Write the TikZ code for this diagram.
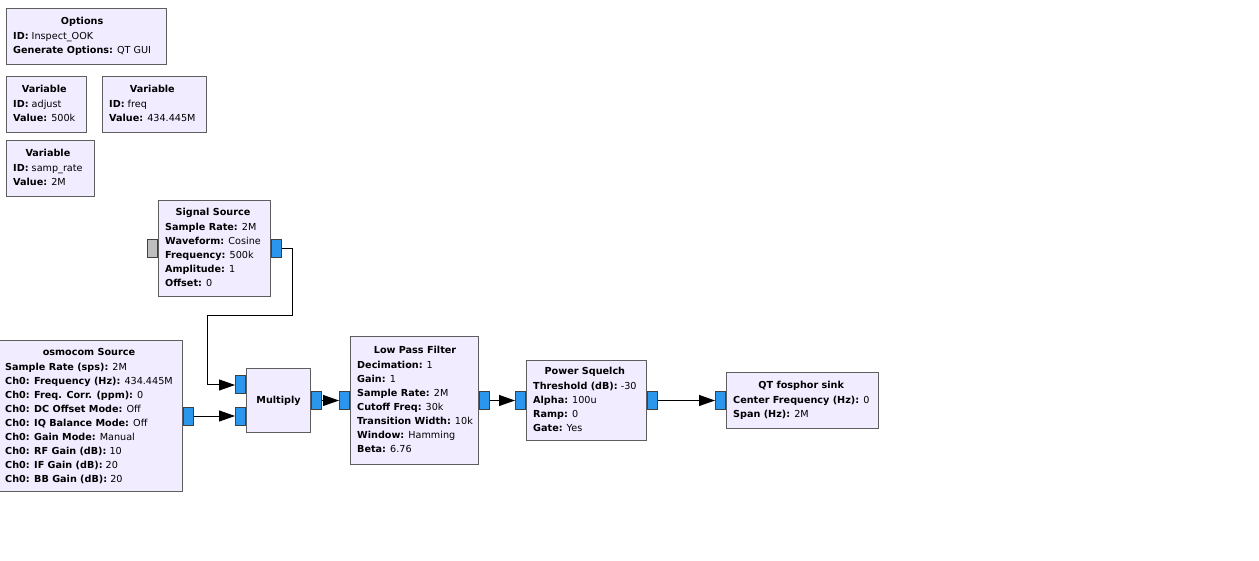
\documentclass[tikz,border=0pt]{standalone}
\usepackage{fontspec}
\setmainfont{DejaVu Sans}
\usetikzlibrary{arrows.meta}
\definecolor{blkfill}{HTML}{F1ECFF}
\definecolor{blkdraw}{HTML}{5E5E5E}
\definecolor{portblue}{HTML}{2B96EE}
\definecolor{portgray}{HTML}{BEBEBE}
\definecolor{portdraw}{HTML}{404040}
\tikzset{
  blk/.style={draw=blkdraw, fill=blkfill, line width=1pt, inner sep=0pt, anchor=north west},
  port/.style={draw=portdraw, fill=portblue, line width=1pt, minimum width=10pt, minimum height=18pt, inner sep=0pt},
  gport/.style={port, fill=portgray},
  txt/.style={inner sep=0pt, anchor=west, font=\fontsize{9.65}{14}\selectfont},
  ttl/.style={inner sep=0pt, font=\fontsize{9.65}{14}\selectfont\bfseries},
  conn/.style={draw=black, line width=1pt, -{Triangle[length=16pt,width=11pt]}},
}
\newcommand\blocktext[2]{\begin{tabular}{@{}l@{}}\multicolumn{1}{@{}c@{}}{\textbf{#1}}\\[1pt]#2\end{tabular}}
\begin{document}
\begin{tikzpicture}[x=1pt,y=-1pt]
\useasboundingbox (0,0) rectangle (1259,561);
% parameter blocks
\node[blk, minimum width=160pt, minimum height=56pt] (opt) at (6,8) {};
\node[txt] (opt-t) at ([xshift=7pt]opt.west) {\blocktext{Options}{\textbf{ID:} Inspect\_OOK\\ \textbf{Generate Options:} QT GUI}};
\node[blk, minimum width=80pt, minimum height=56pt] (vadj) at (6,76) {};
\node[txt] (vadj-t) at ([xshift=7pt]vadj.west) {\blocktext{Variable}{\textbf{ID:} adjust\\ \textbf{Value:} 500k}};
\node[blk, minimum width=104pt, minimum height=56pt] (vfreq) at (102,76) {};
\node[txt] (vfreq-t) at ([xshift=7pt]vfreq.west) {\blocktext{Variable}{\textbf{ID:} freq\\ \textbf{Value:} 434.445M}};
\node[blk, minimum width=88pt, minimum height=56pt] (vsr) at (6,140) {};
\node[txt] (vsr-t) at ([xshift=7pt]vsr.west) {\blocktext{Variable}{\textbf{ID:} samp\_rate\\ \textbf{Value:} 2M}};
% signal source
\node[blk, minimum width=112pt, minimum height=96pt] (ss) at (158,200) {};
\node[txt] (ss-t) at ([xshift=7pt]ss.west) {\blocktext{Signal Source}{\textbf{Sample Rate:} 2M\\ \textbf{Waveform:} Cosine\\ \textbf{Frequency:} 500k\\ \textbf{Amplitude:} 1\\ \textbf{Offset:} 0}};
\node[gport, anchor=east] (ss-in) at (ss.west) {};
\node[port, anchor=west] (ss-out) at (ss.east) {};
% osmocom source
\node[blk, minimum width=184pt, minimum height=151pt] (osmo) at (-2,340) {};
\node[txt] (osmo-t) at ([xshift=7pt]osmo.west) {\blocktext{osmocom Source}{\textbf{Sample Rate (sps):} 2M\\ \textbf{Ch0: Frequency (Hz):} 434.445M\\ \textbf{Ch0: Freq. Corr. (ppm):} 0\\ \textbf{Ch0: DC Offset Mode:} Off\\ \textbf{Ch0: IQ Balance Mode:} Off\\ \textbf{Ch0: Gain Mode:} Manual\\ \textbf{Ch0: RF Gain (dB):} 10\\ \textbf{Ch0: IF Gain (dB):} 20\\ \textbf{Ch0: BB Gain (dB):} 20}};
\node[port, anchor=west] (osmo-out) at (osmo.east) {};
% multiply
\node[blk, minimum width=64pt, minimum height=64pt] (mult) at (246,368) {};
\node[ttl] (mult-t) at (mult.center) {Multiply};
\node[port, anchor=east] (mult-in0) at ([yshift=15.5pt]mult.west) {};
\node[port, anchor=east] (mult-in1) at ([yshift=-15.5pt]mult.west) {};
\node[port, anchor=west] (mult-out) at (mult.east) {};
% low pass filter
\node[blk, minimum width=128pt, minimum height=128pt] (lpf) at (350,336) {};
\node[txt] (lpf-t) at ([xshift=7pt]lpf.west) {\blocktext{Low Pass Filter}{\textbf{Decimation:} 1\\ \textbf{Gain:} 1\\ \textbf{Sample Rate:} 2M\\ \textbf{Cutoff Freq:} 30k\\ \textbf{Transition Width:} 10k\\ \textbf{Window:} Hamming\\ \textbf{Beta:} 6.76}};
\node[port, anchor=east] (lpf-in) at (lpf.west) {};
\node[port, anchor=west] (lpf-out) at (lpf.east) {};
% power squelch
\node[blk, minimum width=120pt, minimum height=80pt] (ps) at (526,360) {};
\node[txt] (ps-t) at ([xshift=7pt]ps.west) {\blocktext{Power Squelch}{\textbf{Threshold (dB):} -30\\ \textbf{Alpha:} 100u\\ \textbf{Ramp:} 0\\ \textbf{Gate:} Yes}};
\node[port, anchor=east] (ps-in) at (ps.west) {};
\node[port, anchor=west] (ps-out) at (ps.east) {};
% qt fosphor sink
\node[blk, minimum width=152pt, minimum height=56pt] (qt) at (726,372) {};
\node[txt] (qt-t) at ([xshift=7pt]qt.west) {\blocktext{QT fosphor sink}{\textbf{Center Frequency (Hz):} 0\\ \textbf{Span (Hz):} 2M}};
\node[port, anchor=east] (qt-in) at (qt.west) {};
% connectors
\coordinate (b1) at (292,316);
\coordinate (b2) at (207,316);
\draw[conn] (ss-out.east) -- (ss-out.east -| b1) -- (b1) -- (b2) -- (b2 |- mult-in0.west) -- (mult-in0.west);
\draw[conn] (osmo-out.east) -- (mult-in1.west);
\draw[conn] (mult-out.east) -- (lpf-in.west);
\draw[conn] (lpf-out.east) -- (ps-in.west);
\draw[conn] (ps-out.east) -- (qt-in.west);
\end{tikzpicture}
\end{document}
